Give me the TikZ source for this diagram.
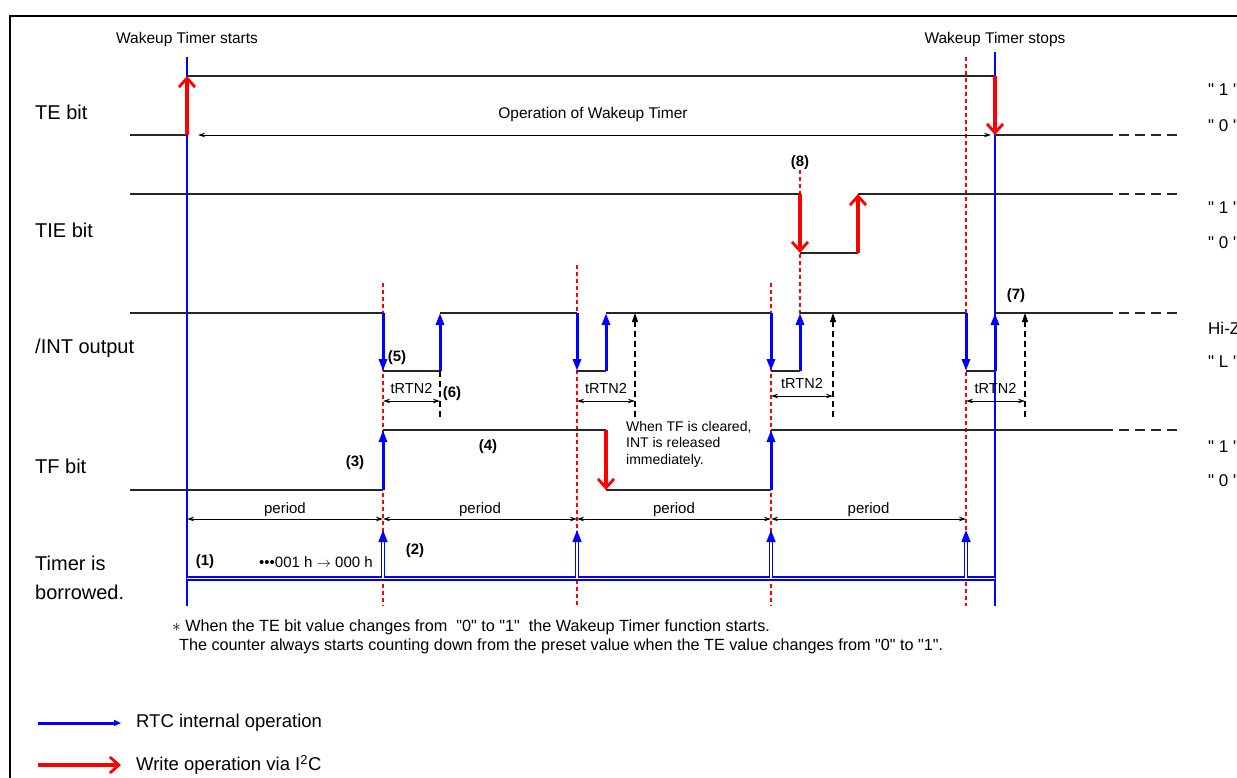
\documentclass[tikz,border=0pt]{standalone}
\usepackage{fontspec}
\setmainfont{Liberation Sans}
\usetikzlibrary{arrows.meta}

\begin{document}
\begin{tikzpicture}[x=1pt,y=-1pt,
  sig/.style={line width=2.2pt,black!85},
  tail/.style={line width=1.8pt,black!85,dash pattern=on 10pt off 6pt},
  wr/.style={red,line width=4pt,-{Straight Barb[length=9pt,width=16pt,line width=2.8pt]}},
  rtc/.style={blue,line width=3pt,-{Triangle[length=12pt,width=8pt]}},
  bor/.style={draw=blue,double=white,double distance=1.3pt,line width=1.4pt,-{Triangle[length=12pt,width=9pt]}},
  evt/.style={red,line width=1.3pt,dash pattern=on 4pt off 3pt},
  tline/.style={blue,line width=1.2pt},
  dim/.style={line width=0.9pt,{Stealth[length=7pt,width=4.5pt]}-{Stealth[length=7pt,width=4.5pt]}},
  rel/.style={line width=1.3pt,dash pattern=on 6pt off 4pt,-{Triangle[length=9pt,width=6pt]}},
  rowlbl/.style={font=\fontsize{20}{29}\selectfont,anchor=west,align=left,inner sep=0pt},
  lvl/.style={font=\fontsize{17}{19}\selectfont,anchor=west,inner sep=0pt},
  txt/.style={font=\fontsize{15.5}{18}\selectfont,inner sep=0pt},
  num/.style={font=\bfseries\fontsize{15}{17}\selectfont,inner sep=0pt}
]
\clip (0,0) rectangle (1237,778);
\draw[line width=1.6pt] (10,16) rectangle (1270,800);

% start / stop lines
\node[txt] (start) at (187,39) {Wakeup Timer starts};
\node[txt] (stop) at (995,39) {Wakeup Timer stops};
\draw[tline] (187,57) -- (187,606);
\draw[tline] (995,52) -- (995,606);
\draw[evt] (383,283) -- (383,606);
\draw[evt] (577,265) -- (577,606);
\draw[evt] (771,283) -- (771,606);
\draw[evt] (966,57) -- (966,606);
\draw[evt] (800,170) -- (800,371);

% row labels
\node[rowlbl] (te) at (35,112) {TE bit};
\node[rowlbl] (tie) at (35,230) {TIE bit};
\node[rowlbl] (int) at (35,348) {/INT output};
\node[rowlbl] (tf) at (35,466) {TF bit};
\node[rowlbl] (tmr) at (35,578) {Timer is\\borrowed.};

% level labels
\node[lvl] (te1) at (1208,90) {\textquotedbl\ 1 \textquotedbl};
\node[lvl] (te0) at (1208,126) {\textquotedbl\ 0 \textquotedbl};
\node[lvl] (tie1) at (1208,208) {\textquotedbl\ 1 \textquotedbl};
\node[lvl] (tie0) at (1208,243) {\textquotedbl\ 0 \textquotedbl};
\node[lvl] (inth) at (1208,328) {Hi-Z};
\node[lvl] (intl) at (1208,362) {\textquotedbl\ L \textquotedbl};
\node[lvl] (tf1) at (1208,447) {\textquotedbl\ 1 \textquotedbl};
\node[lvl] (tf0) at (1208,481) {\textquotedbl\ 0 \textquotedbl};

% TE bit
\draw[sig] (130,135) -- (187,135);
\draw[sig] (187,76) -- (995,76);
\draw[sig] (995,135) -- (1103,135);
\draw[tail] (1103,135) -- (1180,135);
\draw[wr] (187,135) -- (187,76);
\draw[wr] (995,76) -- (995,135);
\draw[dim] (198,135) -- (991,135);
\node[txt] (op) at (593,114) {Operation of Wakeup Timer};

% TIE bit
\draw[sig] (130,194) -- (800,194);
\draw[sig] (800,253) -- (858,253);
\draw[sig] (858,194) -- (1103,194);
\draw[tail] (1103,194) -- (1180,194);
\draw[wr] (800,194) -- (800,253);
\draw[wr] (858,253) -- (858,194);
\node[num] (n8) at (800,163) {(8)};

% /INT output
\draw[sig] (130,313) -- (383,313);
\draw[sig] (440,313) -- (577,313);
\draw[sig] (606,313) -- (771,313);
\draw[sig] (800,313) -- (966,313);
\draw[sig] (995,313) -- (1103,313);
\draw[tail] (1103,313) -- (1180,313);
\foreach \a/\b/\r/\h in {383/440/440/401, 577/606/635/401, 771/800/833/396, 966/995/1025/401}{
  \draw[sig] (\a,371) -- (\b,371);
  \draw[rtc] (\a,313) -- (\a,371);
  \draw[rtc] (\b,371) -- (\b,313);
  \draw[dim] (\a,\h) -- (\r,\h);
  \node[txt,font=\fontsize{14.5}{17}\selectfont] at ({(\a+\r)/2},{\h-13}) {tRTN2};
}
\draw[line width=1.3pt,dash pattern=on 6pt off 4pt] (440,371) -- (440,417);
\foreach \r in {635,833,1025}
  \draw[rel] (\r,417) -- (\r,313);
\node[num] (n5) at (397,358) {(5)};
\node[num] (n6) at (452,394) {(6)};
\node[num] (n7) at (1016,296) {(7)};

% TF bit
\draw[sig] (130,490) -- (383,490);
\draw[sig] (383,430) -- (606,430);
\draw[sig] (606,490) -- (771,490);
\draw[sig] (771,430) -- (1103,430);
\draw[tail] (1103,430) -- (1180,430);
\draw[rtc] (383,490) -- (383,430);
\draw[wr] (606,430) -- (606,490);
\draw[rtc] (771,490) -- (771,430);
\node[num] (n3) at (355,463) {(3)};
\node[num] (n4) at (488,447) {(4)};
\node[txt,font=\fontsize{14}{16.5}\selectfont,anchor=north west,align=left] (clr) at (626,421)
  {When TF is cleared,\\INT is released\\immediately.};

% periods
\foreach \a/\b in {187/383, 383/577, 577/771, 771/966}{
  \draw[dim] (\a,519) -- (\b,519);
  \node[txt,font=\fontsize{15}{17}\selectfont] at ({(\a+\b)/2},510) {period};
}

% timer borrow
\draw[draw=blue,double=white,double distance=1.3pt,line width=1.4pt] (187,578.5) -- (995,578.5);
\foreach \x in {383,577,771,966}
  \draw[bor] (\x,578) -- (\x,530);
\node[num] (n1) at (205,562) {(1)};
\node[txt,font=\fontsize{15}{17}\selectfont] (cnt) at (316,562)
  {{\fontsize{15}{15}\selectfont\textbullet\textbullet\textbullet}001 h $\rightarrow$ 000 h};
\node[num] (n2) at (415,551) {(2)};

% note
\node[txt,font=\fontsize{16.2}{19}\selectfont,anchor=west] (note1) at (172,627)
  {$*$ When the TE bit value changes from~~\textquotedbl0\textquotedbl\ to \textquotedbl1\textquotedbl~~the Wakeup Timer function starts.};
\node[txt,font=\fontsize{16.2}{19}\selectfont,anchor=west] (note2) at (179,646)
  {The counter always starts counting down from the preset value when the TE value changes from \textquotedbl0\textquotedbl\ to \textquotedbl1\textquotedbl.};

% legend
\coordinate (lb0) at (38,723);
\coordinate (lb1) at (121,723);
\coordinate (lr0) at (38,765);
\coordinate (lr1) at (121,765);
\draw[blue,line width=3pt,-{Triangle[length=7pt,width=6pt]}] (lb0) -- (lb1);
\draw[wr] (lr0) -- (lr1);
\node[txt,font=\fontsize{18.5}{20}\selectfont,anchor=west] (leg1) at (136,723) {RTC internal operation};
\node[txt,font=\fontsize{18.5}{20}\selectfont,anchor=west] (leg2) at (136,765) {Write operation via I\textsuperscript{2}C};
\end{tikzpicture}
\end{document}
